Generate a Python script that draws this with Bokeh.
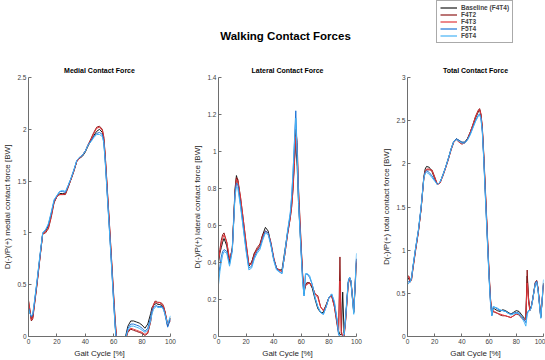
from bokeh.plotting import figure
from bokeh.layouts import column, row
from bokeh.models import Legend, LegendItem, Range1d, FixedTicker
from bokeh.core.properties import value
from bokeh.embed import file_html
from bokeh.resources import INLINE

# ---------------- data ----------------
GAIT = [0, 1, 2, 3, 4, 6, 8, 10, 12, 13, 14, 16, 18, 20, 22, 24, 26, 28, 30, 32,
        34, 36, 38, 40, 42, 44, 46, 48, 50, 52, 53, 54, 55, 56, 57, 58, 60, 61, 62, 63,
        64, 66, 68, 70, 72, 74, 76, 78, 80, 82, 84, 86, 87, 88, 89, 90, 91, 92, 94, 95,
        96, 98, 100]

SERIES = ["Baseline (F4T4)", "F4T2", "F4T3", "F5T4", "F6T4"]

medial_base = [0.30,0.24,0.17,0.19,0.30,0.52,0.76,0.99,1.02,1.04, 1.07,1.18,1.30,1.35,1.38,1.38,1.38,1.45,1.52,1.60,
               1.69,1.72,1.74,1.78,1.84,1.89,1.94,1.98,2.00,1.97, 1.90,1.72,1.50,1.27,1.05,0.82,0.35,0.12,-0.05,-0.10,
               -0.10,-0.10,-0.02,0.10,0.15,0.15,0.14,0.13,0.11,0.08, 0.12,0.22,0.28,0.30,0.31,0.32,0.31,0.31,0.30,0.28,
               0.24,0.10,0.18]
medial_f4t2 = [0.35,0.26,0.15,0.17,0.28,0.50,0.75,0.99,1.00,1.02, 1.04,1.15,1.29,1.35,1.37,1.37,1.37,1.44,1.52,1.60,
               1.69,1.73,1.75,1.79,1.85,1.91,1.97,2.02,2.03,2.00, 1.93,1.76,1.54,1.31,1.09,0.86,0.40,0.17,0.00,-0.10,
               -0.10,-0.10,-0.05,0.04,0.07,0.06,0.05,0.04,0.03,0.01, 0.03,0.14,0.24,0.30,0.34,0.34,0.33,0.33,0.32,0.30,
               0.25,0.12,0.15]
medial_f4t3 = [0.34,0.25,0.16,0.18,0.29,0.51,0.75,0.99,1.01,1.03, 1.05,1.16,1.30,1.35,1.37,1.37,1.38,1.45,1.52,1.60,
               1.69,1.72,1.75,1.79,1.85,1.90,1.96,2.01,2.02,1.99, 1.92,1.75,1.53,1.30,1.08,0.85,0.38,0.15,-0.02,-0.10,
               -0.10,-0.10,-0.04,0.05,0.08,0.07,0.06,0.05,0.04,0.02, 0.04,0.15,0.25,0.31,0.33,0.33,0.32,0.33,0.31,0.29,
               0.24,0.11,0.16]
medial_f5t4 = [0.28,0.23,0.19,0.21,0.31,0.53,0.77,1.00,1.03,1.05, 1.08,1.19,1.31,1.36,1.40,1.40,1.39,1.46,1.53,1.61,
               1.70,1.73,1.75,1.79,1.85,1.89,1.93,1.96,1.97,1.95, 1.88,1.70,1.48,1.25,1.03,0.80,0.33,0.10,-0.06,-0.10,
               -0.10,-0.10,-0.03,0.08,0.12,0.12,0.11,0.10,0.08,0.05, 0.08,0.18,0.25,0.28,0.29,0.30,0.29,0.29,0.29,0.27,
               0.22,0.09,0.17]
medial_f6t4 = [0.27,0.22,0.20,0.22,0.32,0.54,0.78,1.00,1.03,1.06, 1.09,1.20,1.32,1.36,1.40,1.41,1.40,1.46,1.53,1.61,
               1.70,1.73,1.75,1.79,1.85,1.88,1.92,1.95,1.95,1.93, 1.87,1.69,1.47,1.24,1.02,0.79,0.32,0.10,-0.06,-0.10,
               -0.10,-0.10,-0.03,0.06,0.10,0.10,0.09,0.08,0.06,0.04, 0.06,0.15,0.22,0.26,0.28,0.29,0.28,0.28,0.28,0.26,
               0.22,0.12,0.20]

lateral_base = [0.40,0.45,0.48,0.51,0.53,0.49,0.40,0.48,0.80,0.87, 0.84,0.73,0.61,0.49,0.38,0.40,0.45,0.47,0.49,0.55,
                0.59,0.57,0.50,0.42,0.37,0.36,0.36,0.46,0.56,0.65, 0.72,0.82,0.95,1.05,0.92,0.72,0.45,0.32,0.23,0.28,
                0.29,0.29,0.26,0.20,0.15,0.13,0.13,0.17,0.21,0.22, 0.17,0.08,0.03,0.01,0.01,0.24,0.02,0.08,0.29,0.31,
                0.29,0.13,0.40]
lateral_f4t2 = [0.42,0.47,0.52,0.55,0.56,0.51,0.41,0.47,0.78,0.86, 0.85,0.75,0.63,0.50,0.39,0.40,0.45,0.48,0.50,0.55,
                0.57,0.56,0.50,0.42,0.37,0.36,0.35,0.44,0.55,0.64, 0.70,0.80,0.95,1.12,1.05,0.80,0.48,0.33,0.25,0.27,
                0.29,0.29,0.27,0.23,0.22,0.16,0.14,0.17,0.21,0.22, 0.16,0.06,0.02,0.43,0.02,0.00,0.00,0.08,0.29,0.32,
                0.30,0.15,0.42]
lateral_f4t3 = [0.41,0.46,0.50,0.53,0.55,0.51,0.42,0.47,0.78,0.85, 0.84,0.75,0.63,0.51,0.39,0.39,0.44,0.47,0.49,0.54,
                0.57,0.56,0.51,0.43,0.37,0.36,0.35,0.44,0.55,0.64, 0.70,0.79,0.93,1.08,1.00,0.78,0.47,0.33,0.25,0.28,
                0.28,0.29,0.27,0.23,0.21,0.16,0.14,0.16,0.21,0.22, 0.16,0.07,0.03,0.30,0.03,0.00,0.00,0.07,0.28,0.31,
                0.30,0.14,0.41]
lateral_f5t4 = [0.32,0.38,0.43,0.46,0.47,0.46,0.39,0.47,0.78,0.83, 0.82,0.71,0.59,0.47,0.37,0.38,0.43,0.46,0.48,0.53,
                0.57,0.56,0.50,0.42,0.37,0.35,0.34,0.45,0.56,0.66, 0.75,0.88,1.05,1.22,1.00,0.74,0.44,0.30,0.22,0.33,
                0.34,0.32,0.28,0.21,0.16,0.13,0.12,0.16,0.21,0.23, 0.18,0.08,0.01,0.00,0.00,0.00,0.01,0.10,0.30,0.32,
                0.30,0.13,0.42]
lateral_f6t4 = [0.28,0.35,0.40,0.44,0.46,0.45,0.38,0.46,0.76,0.81, 0.80,0.70,0.58,0.46,0.36,0.37,0.42,0.45,0.47,0.52,
                0.56,0.55,0.49,0.41,0.36,0.35,0.34,0.45,0.57,0.67, 0.76,0.89,1.04,1.18,0.98,0.72,0.43,0.29,0.22,0.34,
                0.34,0.33,0.28,0.21,0.16,0.13,0.12,0.16,0.21,0.23, 0.19,0.09,0.02,0.00,0.00,0.00,0.01,0.09,0.29,0.32,
                0.30,0.12,0.45]

total_base = [0.65,0.68,0.64,0.68,0.80,1.02,1.22,1.48,1.85,1.94, 1.97,1.96,1.91,1.83,1.76,1.79,1.87,1.96,2.06,2.17,
              2.26,2.29,2.27,2.25,2.25,2.29,2.36,2.44,2.53,2.60, 2.63,2.56,2.40,2.10,1.75,1.40,0.70,0.42,0.26,0.33,
              0.32,0.30,0.29,0.31,0.30,0.28,0.26,0.28,0.30,0.29, 0.25,0.21,0.22,0.70,0.45,0.32,0.35,0.42,0.62,0.64,
              0.55,0.22,0.62]
total_f4t2 = [0.70,0.70,0.63,0.66,0.78,1.00,1.21,1.48,1.83,1.91, 1.93,1.93,1.93,1.85,1.76,1.78,1.86,1.95,2.05,2.16,
              2.25,2.28,2.25,2.23,2.24,2.28,2.36,2.45,2.55,2.62, 2.64,2.58,2.43,2.14,1.80,1.45,0.74,0.45,0.25,0.29,
              0.28,0.27,0.25,0.24,0.24,0.23,0.22,0.24,0.26,0.25, 0.21,0.19,0.20,0.77,0.40,0.30,0.34,0.43,0.63,0.65,
              0.56,0.24,0.60]
total_f4t3 = [0.69,0.69,0.63,0.67,0.79,1.01,1.21,1.48,1.83,1.91, 1.94,1.94,1.92,1.84,1.76,1.78,1.86,1.95,2.05,2.16,
              2.25,2.28,2.25,2.23,2.24,2.28,2.36,2.45,2.54,2.61, 2.63,2.57,2.42,2.12,1.78,1.43,0.72,0.44,0.25,0.30,
              0.29,0.27,0.26,0.25,0.24,0.23,0.22,0.24,0.26,0.26, 0.22,0.19,0.21,0.62,0.42,0.31,0.34,0.42,0.62,0.64,
              0.55,0.23,0.61]
total_f5t4 = [0.62,0.64,0.64,0.69,0.81,1.03,1.23,1.50,1.84,1.90, 1.92,1.90,1.86,1.81,1.76,1.79,1.87,1.96,2.06,2.17,
              2.26,2.29,2.27,2.25,2.25,2.28,2.34,2.42,2.50,2.56, 2.58,2.53,2.38,2.08,1.72,1.37,0.68,0.40,0.24,0.34,
              0.34,0.32,0.30,0.30,0.29,0.27,0.26,0.27,0.28,0.27, 0.23,0.19,0.16,0.27,0.30,0.30,0.34,0.43,0.62,0.64,
              0.54,0.22,0.60]
total_f6t4 = [0.60,0.62,0.63,0.68,0.81,1.03,1.23,1.50,1.83,1.89, 1.90,1.88,1.84,1.80,1.76,1.79,1.87,1.96,2.06,2.17,
              2.26,2.28,2.26,2.24,2.24,2.27,2.33,2.41,2.49,2.55, 2.57,2.52,2.37,2.07,1.71,1.36,0.67,0.39,0.24,0.35,
              0.34,0.33,0.31,0.30,0.29,0.27,0.25,0.26,0.27,0.26, 0.22,0.16,0.12,0.25,0.30,0.30,0.33,0.42,0.61,0.63,
              0.53,0.21,0.66]

X_TICKS = [0, 20, 40, 60, 80, 100]
MEDIAL_TICKS = [0, 0.5, 1, 1.5, 2, 2.5]
LATERAL_TICKS = [0, 0.2, 0.4, 0.6, 0.8, 1, 1.2, 1.4]
TOTAL_TICKS = [0, 0.5, 1, 1.5, 2, 2.5, 3]

COLORS = ["#1a1a1a", "#8e1a1a", "#e2373c", "#1f74d6", "#45b2f5"]
FONT = "Liberation Sans"


def fmt(v):
    return "%g" % v


def panel(title, ylabel, ymax, yticks, data, width, left, right):
    p = figure(width=width, height=300, x_range=Range1d(0, 100), y_range=Range1d(0, ymax),
               output_backend="svg", toolbar_location=None, title=title,
               min_border_left=left, min_border_right=right, min_border_top=17, min_border_bottom=21)
    p.outline_line_color = None
    p.grid.visible = False
    p.background_fill_color = "white"
    p.border_fill_color = "white"
    p.title.align = "center"
    p.title.text_font = FONT
    p.title.text_font_size = "7px"
    p.title.text_font_style = "bold"
    p.title.text_color = "#000000"
    p.title.standoff = 8
    p.title.offset = 0
    for ax, ticks in ((p.xaxis[0], X_TICKS), (p.yaxis[0], yticks)):
        ax.ticker = FixedTicker(ticks=ticks)
        ax.major_label_overrides = {t: fmt(t) for t in ticks}
        ax.major_tick_in = 3
        ax.major_tick_out = 0
        ax.minor_tick_line_color = None
        ax.axis_line_color = "#6e6e6e"
        ax.major_tick_line_color = "#6e6e6e"
        ax.major_label_text_font = FONT
        ax.major_label_text_font_size = "6.5px"
        ax.major_label_text_color = "#404040"
        ax.axis_label_text_font = FONT
        ax.axis_label_text_font_size = "8px"
        ax.axis_label_text_font_style = "normal"
        ax.axis_label_text_color = "#262626"
        ax.major_label_standoff = 2
        ax.axis_label_standoff = 2
    p.xaxis.axis_label = "Gait Cycle [%]"
    p.yaxis.axis_label = ylabel
    for ys, c in zip(data, COLORS):
        p.line(GAIT, ys, line_color=c, line_width=1.0)
    return p


p1 = panel("Medial Contact Force", "D(-)/P(+) medial contact force [BW]", 2.5, MEDIAL_TICKS,
           [medial_base, medial_f4t2, medial_f4t3, medial_f5t4, medial_f6t4], 190, 27, 20)
p2 = panel("Lateral Contact Force", "D(-)/P(+) lateral contact force [BW]", 1.4, LATERAL_TICKS,
           [lateral_base, lateral_f4t2, lateral_f4t3, lateral_f5t4, lateral_f6t4], 189, 24, 23)
p3 = panel("Total Contact Force", "D(-)/P(+) total contact force [BW]", 3, TOTAL_TICKS,
           [total_base, total_f4t2, total_f4t3, total_f5t4, total_f6t4], 166, 22, 2)

top = figure(width=545, height=60, x_range=Range1d(0, 545), y_range=Range1d(0, 60),
             output_backend="svg", toolbar_location=None,
             x_axis_location=None, y_axis_location=None, min_border=0)
top.outline_line_color = None
top.grid.visible = False
top.text(x=[285], y=[25], text=["Walking Contact Forces"], text_font=value(FONT),
         text_font_size="11.5px", text_font_style="bold", text_align="center",
         text_baseline="middle", text_color="#000000")
items = []
for name, c in zip(SERIES, COLORS):
    r = top.line([-100, -90], [-100, -100], line_color=c, line_width=1.2)
    items.append(LegendItem(label=name, renderers=[r]))
leg = Legend(items=items, location=(436, 17), glyph_width=17, glyph_height=7,
             label_height=7, label_text_font=FONT, label_text_font_size="6.5px",
             label_text_font_style="bold", label_standoff=4, spacing=0, padding=3,
             margin=0, border_line_color="#555555", border_line_width=1,
             background_fill_color="white", background_fill_alpha=1.0)
top.add_layout(leg)

layout = column(top, row(p1, p2, p3, spacing=0), spacing=0)
open("out.html", "w").write(file_html(layout, INLINE))
